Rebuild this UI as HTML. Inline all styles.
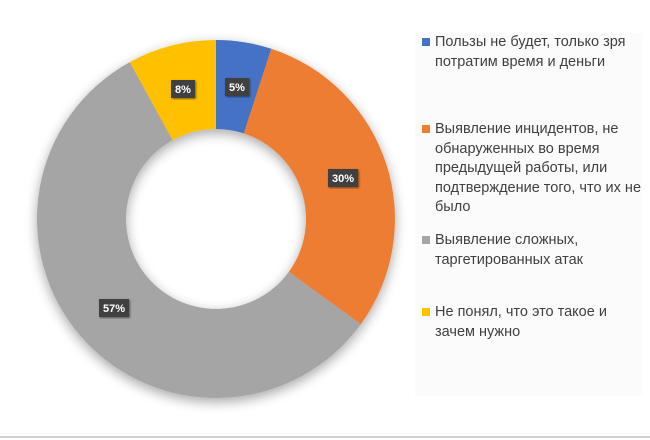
<!DOCTYPE html>
<html><head><meta charset="utf-8"><style>
body{margin:0;width:650px;height:440px;background:#fff;overflow:hidden;position:relative;font-family:"Liberation Sans","DejaVu Sans",sans-serif}
.lg{position:absolute;left:415px;top:33px;width:227px;height:363px;background:#fbfbfb}
.it{position:absolute;left:20px;font-size:14.5px;line-height:19.5px;color:#404040;width:210px}
.m{position:absolute;left:-13px;top:5px;width:8px;height:8px}
.bl{position:absolute;left:0;top:436px;width:650px;height:2px;background:#d0d0d0}
</style></head><body>
<svg width="650" height="440" style="position:absolute;left:0;top:0">
<defs><filter id="sh" x="-20%" y="-20%" width="140%" height="140%"><feGaussianBlur in="SourceAlpha" stdDeviation="6"/><feOffset dx="0" dy="4"/><feComponentTransfer><feFuncA type="linear" slope="0.35"/></feComponentTransfer><feMerge><feMergeNode/><feMergeNode in="SourceGraphic"/></feMerge></filter>
<filter id="s2"><feDropShadow dx="1" dy="1" stdDeviation="1" flood-opacity="0.5"/></filter></defs>
<g filter="url(#sh)">
<path d="M216 40 A179 179 0 0 1 271.3 48.8 L243.8 133.4 A90 90 0 0 0 216 129Z" fill="#4472c4"/>
<path d="M271.3 48.8 A179 179 0 0 1 360.8 324.2 L288.8 271.9 A90 90 0 0 0 243.8 133.4Z" fill="#ed7d31"/>
<path d="M360.8 324.2 A179 179 0 1 1 129.8 62.1 L172.6 140.1 A90 90 0 1 0 288.8 271.9Z" fill="#a5a5a5"/>
<path d="M129.8 62.1 A179 179 0 0 1 216 40 L216 129 A90 90 0 0 0 172.6 140.1Z" fill="#ffc000"/>
</g>
<g font-size="11" font-weight="bold" fill="#fff" text-anchor="middle">
<rect x="225" y="78" width="24" height="18" fill="#404040" filter="url(#s2)"/><text x="237" y="91">5%</text>
<rect x="328" y="169" width="30" height="18" fill="#404040" filter="url(#s2)"/><text x="343" y="182">30%</text>
<rect x="99" y="299" width="30" height="18" fill="#404040" filter="url(#s2)"/><text x="114" y="312">57%</text>
<rect x="171" y="80" width="24" height="18" fill="#404040" filter="url(#s2)"/><text x="183" y="93">8%</text>
</g>
</svg>
<div class="lg">
<div class="it" style="top:0px"><span class="m" style="background:#4472c4"></span>Пользы не будет, только зря потратим время и деньги</div>
<div class="it" style="top:87px"><span class="m" style="background:#ed7d31"></span>Выявление инцидентов, не обнаруженных во время предыдущей работы, или подтверждение того, что их не было</div>
<div class="it" style="top:198px"><span class="m" style="background:#a5a5a5"></span>Выявление сложных, таргетированных атак</div>
<div class="it" style="top:270px"><span class="m" style="background:#ffc000"></span>Не понял, что это такое и зачем нужно</div>
</div>
<div class="bl"></div>
</body></html>
